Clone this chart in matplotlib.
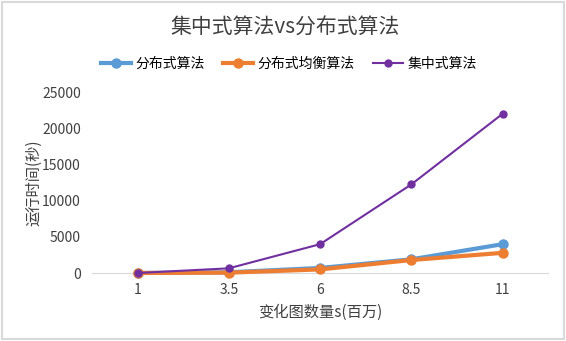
import matplotlib
matplotlib.use('Agg')
import matplotlib.pyplot as plt

plt.rcParams['font.family'] = ['Noto Sans CJK SC', 'DejaVu Sans']

# categories (x axis, millions)
x_labels = ['1', '3.5', '6', '8.5', '11']

# run time in seconds
distributed = [0, 100, 700, 1900, 4000]
distributed_balanced = [0, 50, 500, 1800, 2800]
centralized = [0, 650, 4000, 12300, 22100]

fig = plt.figure(figsize=(5.66, 3.41), dpi=100)
ax = fig.add_axes([0.1625, 0.1994, 0.806, 0.528])

xs = range(len(x_labels))
ax.plot(xs, distributed, color='#5b9bd5', lw=3, marker='o', ms=6.5, label='分布式算法', zorder=3, clip_on=False)
ax.plot(xs, distributed_balanced, color='#ed7d31', lw=3, marker='o', ms=6.5, label='分布式均衡算法', zorder=4, clip_on=False)
ax.plot(xs, centralized, color='#7030a0', lw=1.5, marker='o', ms=5, label='集中式算法', zorder=5, clip_on=False)

ax.set_xlim(-0.5, len(x_labels) - 0.5)
ax.set_ylim(0, 25000)
ax.set_yticks([0, 5000, 10000, 15000, 20000, 25000])
ax.set_xticks(list(xs))
ax.set_xticklabels(x_labels)
ax.tick_params(length=0, labelsize=10, colors='#404040')
ax.tick_params(axis='x', pad=7)
ax.tick_params(axis='y', pad=8)
for s in ['top', 'right', 'left']:
    ax.spines[s].set_visible(False)
ax.spines['bottom'].set_color('#d9d9d9')

ax.set_xlabel('变化图数量s(百万)', fontsize=11, color='#404040')
ax.xaxis.set_label_coords(0.5, -0.17)
ax.set_ylabel('运行时间(秒)', fontsize=11, color='#404040')
ax.yaxis.set_label_coords(-0.11, 0.5)

fig.text(0.503, 0.918, '集中式算法vs分布式算法', ha='center', va='center', fontsize=15, color='#404040')
fig.legend(loc='center', bbox_to_anchor=(0.51, 0.812), ncol=3, frameon=False,
           fontsize=10, handlelength=2.2, columnspacing=1.3, handletextpad=0.3)

# outer border
fig.patches.append(plt.Rectangle((0.003, 0.005), 0.994, 0.99, transform=fig.transFigure,
                                 fill=False, edgecolor='#d9d9d9', lw=1.5))

fig.savefig('out.png', dpi=100)
